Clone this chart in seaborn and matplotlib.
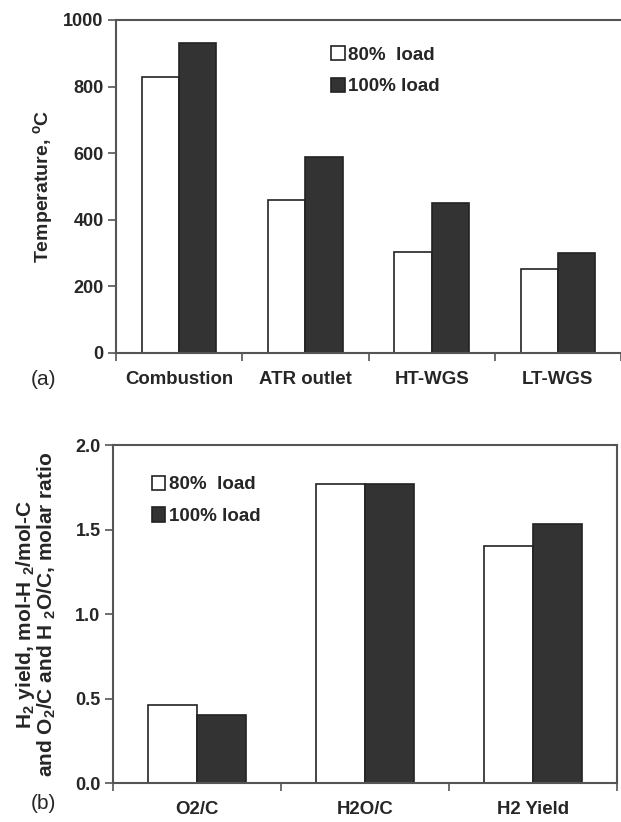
import matplotlib
matplotlib.use("Agg")
import matplotlib.pyplot as plt
import seaborn as sns
import pandas as pd
import numpy as np

# panel (a) temperatures
stages = ["Combustion", "ATR outlet", "HT-WGS", "LT-WGS"]
temp_80 = [830, 460, 303, 252]
temp_100 = [930, 588, 450, 300]

# panel (b) ratios / yield
ratios = ["O2/C", "H2O/C", "H2 Yield"]
ratio_80 = [0.46, 1.77, 1.40]
ratio_100 = [0.40, 1.77, 1.53]

loads = ["80%  load", "100% load"]

sns.set_theme(style="white")
plt.rcParams["font.family"] = ["Liberation Sans", "DejaVu Sans"]
plt.rcParams["mathtext.fontset"] = "custom"
plt.rcParams["mathtext.rm"] = "Liberation Sans:bold"
plt.rcParams["mathtext.it"] = "Liberation Sans:bold"
plt.rcParams["mathtext.bf"] = "Liberation Sans:bold"

dfa = pd.DataFrame({"cat": stages * 2, "val": temp_80 + temp_100,
                    "load": [loads[0]] * 4 + [loads[1]] * 4})
dfb = pd.DataFrame({"cat": ratios * 2, "val": ratio_80 + ratio_100,
                    "load": [loads[0]] * 3 + [loads[1]] * 3})

pal = {loads[0]: "white", loads[1]: "#333333"}

fig = plt.figure(figsize=(6.21, 8.22), dpi=100)
ax1 = fig.add_axes([0.1868, 0.5706, 0.8132, 0.4051])
ax2 = fig.add_axes([0.182, 0.0474, 0.8116, 0.4112])


def style(ax, n, ymax, yticks, fmt, leg_xy):
    ax.set_xlim(-0.5, n - 0.5)
    ax.set_ylim(0, ymax)
    ax.set_yticks(yticks)
    ax.set_yticklabels([fmt.format(v) for v in yticks], fontsize=13, fontweight="bold")
    ax.set_xticks(range(n))
    ax.tick_params(axis="x", which="major", length=0, pad=13)
    ax.set_xticks(np.arange(n + 1) - 0.5, minor=True)
    ax.tick_params(axis="x", which="minor", length=6, width=1.2, color="#555555", bottom=True)
    ax.tick_params(axis="y", length=6, width=1.2, color="#555555", left=True, pad=3)
    for lab in ax.get_xticklabels():
        lab.set_fontweight("bold")
        lab.set_fontsize(13.4)
    for s in ax.spines.values():
        s.set_color("#555555")
        s.set_linewidth(1.5)
    ax.set_xlabel("")
    h, l = ax.get_legend_handles_labels()
    ax.legend(h, l, loc="upper left", bbox_to_anchor=leg_xy, frameon=False,
              handlelength=0.7, handleheight=0.8, handletextpad=0.2,
              labelspacing=0.75, borderpad=0, prop={"weight": "bold", "size": 13.5})


sns.barplot(data=dfa, x="cat", y="val", hue="load", palette=pal, ax=ax1,
            width=0.59, edgecolor="#222222", linewidth=1.2, gap=0)
sns.barplot(data=dfb, x="cat", y="val", hue="load", palette=pal, ax=ax2,
            width=0.58, edgecolor="#222222", linewidth=1.2, gap=0)

style(ax1, 4, 1000, [0, 200, 400, 600, 800, 1000], "{:.0f}", (0.408, 0.95))
style(ax2, 3, 2.0, [0.0, 0.5, 1.0, 1.5, 2.0], "{:.1f}", (0.059, 0.937))
ax1.spines["right"].set_visible(False)

ax1.set_ylabel("Temperature, $^{\\rm o}$C", fontsize=14, fontweight="bold", labelpad=6)
ax2.set_ylabel("H$_2$ yield, mol-H $_2$/mol-C\nand O$_2$/C and H $_2$O/C, molar ratio",
               fontsize=15, fontweight="bold", labelpad=12, linespacing=0.95)

fig.text(0.05, 0.538, "(a)", fontsize=15, va="center")
fig.text(0.05, 0.022, "(b)", fontsize=15, va="center")

fig.savefig("out.png", dpi=100)
